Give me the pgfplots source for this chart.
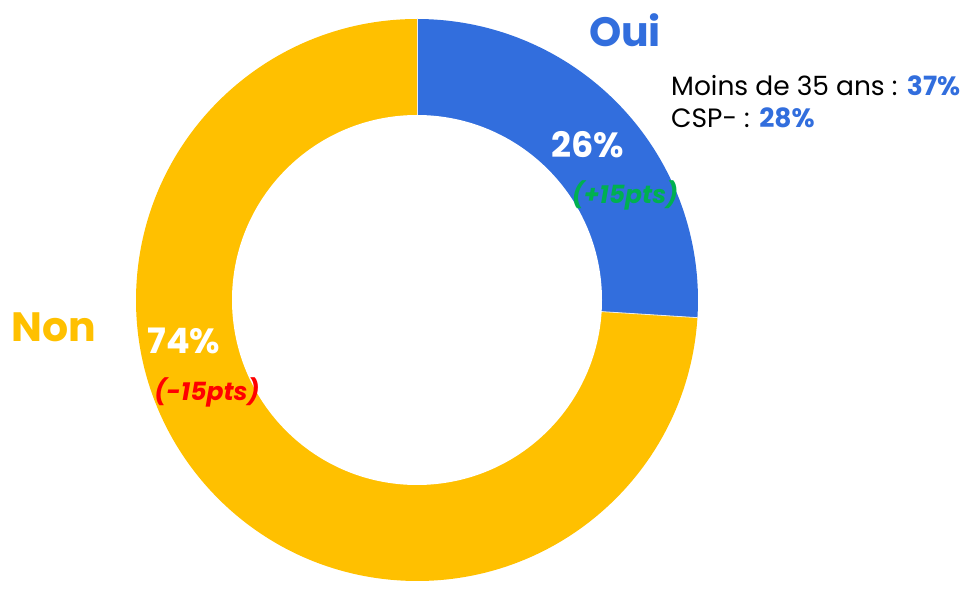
\documentclass[border=0pt]{standalone}
\usepackage{fontspec}
\setmainfont{Poppins}
\usepackage{pgfplots}
\usepackage{pgfplotstable}
\pgfplotsset{compat=1.18}
\definecolor{ouiblue}{RGB}{50,110,221}
\definecolor{nonyellow}{RGB}{255,192,0}
\definecolor{pgreen}{RGB}{0,176,80}
\definecolor{pred}{RGB}{255,0,0}
\pgfplotstableread{
label value
Oui 26
Non 74
}\donutdata
\begin{document}
\begin{tikzpicture}
\pgfplotstablegetelem{0}{value}\of\donutdata \let\vOui\pgfplotsretval
\pgfplotstablegetelem{1}{value}\of\donutdata \let\vNon\pgfplotsretval
\pgfmathsetmacro{\aEnd}{90-3.6*\vOui}
\pgfmathsetmacro{\aEndN}{\aEnd-3.6*\vNon}
\begin{axis}[
  x=1pt, y=1pt, xmin=0, xmax=970, ymin=0, ymax=583,
  hide axis, scale only axis, clip=false,
]
\path (axis cs:0,0) rectangle (axis cs:970,583);
\fill[ouiblue] (axis cs:417,283) -- ++(90:281pt) arc[start angle=90, end angle=\aEnd, radius=281pt] -- cycle;
\fill[nonyellow] (axis cs:417,283) -- ++(\aEnd:281pt) arc[start angle=\aEnd, end angle=\aEndN, radius=281pt] -- cycle;
\draw[white!85!gray, line width=0.8pt] (axis cs:417,283) -- ++(90:281pt);
\draw[white!85!gray, line width=0.8pt] (axis cs:417,283) -- ++(\aEnd:281pt);
\fill[white] (axis cs:417,283) circle[radius=185pt];
\begin{scope}[every node/.append style={overlay}]
\node[font=\bfseries\fontsize{41}{41}\selectfont, text=ouiblue] at (axis cs:625,553) {Oui};
\node[font=\bfseries\fontsize{41}{41}\selectfont, text=nonyellow] at (axis cs:54,256) {Non};
\node[font=\bfseries\fontsize{35}{35}\selectfont, text=white] at (axis cs:588,438) {26\%};
\node[font=\bfseries\fontsize{35}{35}\selectfont, text=white] at (axis cs:184,242) {74\%};
\node[font=\bfseries\itshape\fontsize{25}{25}\selectfont, text=pgreen] at (axis cs:625,388) {(+15pts)};
\node[font=\bfseries\itshape\fontsize{25}{25}\selectfont, text=pred] at (axis cs:207,191) {(-15pts)};
\node[anchor=base west, font=\fontsize{26.5}{26.5}\selectfont, inner sep=0pt] at (axis cs:671,487) {Moins de 35 ans : \textcolor{ouiblue}{\bfseries 37\%}};
\node[anchor=base west, font=\fontsize{26.5}{26.5}\selectfont, inner sep=0pt] at (axis cs:671,455) {CSP- : \textcolor{ouiblue}{\bfseries 28\%}};
\end{scope}
\end{axis}
\end{tikzpicture}
\end{document}
